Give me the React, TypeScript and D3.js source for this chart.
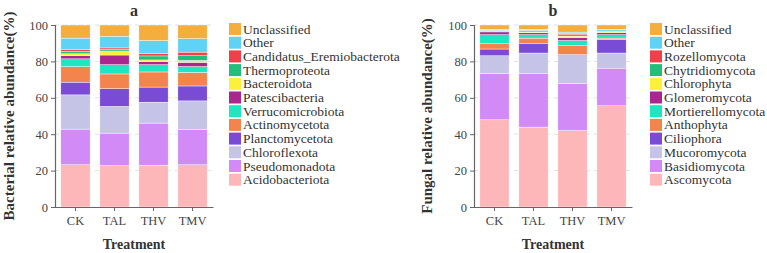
import { useRef, useEffect } from 'react';
import * as d3 from 'd3';

const treatments = ['CK', 'TAL', 'THV', 'TMV'];

// stacking order, bottom to top
const bacteriaTaxa = [
    'Acidobacteriota', 'Pseudomonadota', 'Chloroflexota', 'Planctomycetota',
    'Actinomycetota', 'Verrucomicrobiota', 'Patescibacteria', 'Bacteroidota',
    'Thermoproteota', 'Candidatus_Eremiobacterota', 'Other', 'Unclassified',
];
const bacteriaCK = [23.2, 19.6, 18.8, 7.0, 8.5, 4.3, 1.7, 1.1, 1.4, 1.0, 6.2, 7.2];
const bacteriaTAL = [22.7, 17.9, 14.7, 9.7, 8.1, 5.1, 5.3, 2.2, 0.8, 0.9, 6.4, 6.2];
const bacteriaTHV = [23.0, 23.1, 11.5, 8.3, 8.3, 4.0, 1.6, 1.0, 2.2, 1.2, 7.3, 8.5];
const bacteriaTMV = [23.2, 19.3, 15.8, 8.2, 7.5, 3.2, 2.3, 1.0, 2.6, 2.0, 7.4, 7.5];

const fungiTaxa = [
    'Ascomycota', 'Basidiomycota', 'Mucoromycota', 'Ciliophora',
    'Anthophyta', 'Mortierellomycota', 'Glomeromycota', 'Chlorophyta',
    'Chytridiomycota', 'Rozellomycota', 'Other', 'Unclassified',
];
const fungiCK = [47.9, 25.5, 9.7, 3.7, 2.9, 5.0, 1.5, 0.3, 0.3, 0.2, 0.5, 2.5];
const fungiTAL = [43.9, 29.6, 11.1, 5.1, 3.1, 1.9, 1.0, 0.4, 0.6, 0.3, 0.6, 2.4];
const fungiTHV = [42.0, 25.8, 15.4, 0.6, 4.8, 2.9, 1.6, 0.8, 0.8, 0.5, 0.9, 3.9];
const fungiTMV = [55.6, 20.7, 8.3, 7.3, 0.9, 1.9, 1.1, 0.4, 0.3, 0.2, 1.0, 2.3];

const palette = [
    '#feb7b8', '#d28af7', '#c5c4e6', '#7a4cd6', '#f4844e', '#1ee6c0',
    '#a9278f', '#fbf03a', '#23bd7c', '#f2404a', '#5ed3f6', '#f3ae3e',
];

const yTicks = [0, 20, 40, 60, 80, 100];

interface PanelSpec {
    title: string;
    yLabel: string;
    taxa: string[];
    values: number[][];
    left: number;
    labelX: number;
    legendX: number;
}

const SERIF = '"Liberation Serif", "Times New Roman", serif';

function drawPanel(svg: d3.Selection<SVGSVGElement, unknown, null, undefined>, p: PanelSpec) {
    const top = 25;
    const bottom = 207;
    const plotW = 158;

    const rows = treatments.map((t, i) => {
        const row: Record<string, number | string> = { treatment: t };
        p.taxa.forEach((k, j) => { row[k] = p.values[i][j]; });
        return row;
    });

    const x = d3.scaleBand<string>()
        .domain(treatments)
        .range([p.left, p.left + plotW])
        .paddingInner(0.25)
        .paddingOuter(0.15);

    const y = d3.scaleLinear().domain([0, 100]).range([bottom, top]);

    const color = d3.scaleOrdinal<string, string>().domain(p.taxa).range(palette);

    const g = svg.append('g');

    // dashed grid
    g.append('g')
        .selectAll('line')
        .data(yTicks.slice(1))
        .enter()
        .append('line')
        .attr('x1', p.left)
        .attr('x2', p.left + plotW)
        .attr('y1', d => y(d))
        .attr('y2', d => y(d))
        .attr('stroke', '#e0e0e0')
        .attr('stroke-dasharray', '4,4');

    // stacked bars
    const series = d3.stack<Record<string, number | string>>()
        .keys(p.taxa)
        .value((d, k) => d[k] as number)(rows);

    g.append('g')
        .selectAll('g')
        .data(series)
        .enter()
        .append('g')
        .attr('fill', d => color(d.key))
        .selectAll('rect')
        .data(d => d)
        .enter()
        .append('rect')
        .attr('x', d => x(d.data.treatment as string)!)
        .attr('width', x.bandwidth())
        .attr('y', d => y(d[1]))
        .attr('height', d => y(d[0]) - y(d[1]))
        .attr('stroke', '#fff')
        .attr('stroke-width', 0.4);

    // Y axis
    const yAxis = g.append('g')
        .attr('transform', `translate(${p.left},0)`)
        .call(d3.axisLeft(y).tickValues(yTicks).tickSize(4).tickPadding(3));

    // X axis
    const xAxis = g.append('g')
        .attr('transform', `translate(0,${bottom})`)
        .call(d3.axisBottom(x).tickSize(4).tickPadding(5).tickSizeOuter(0));

    [yAxis, xAxis].forEach(a => {
        a.select('.domain').attr('stroke', '#666').attr('stroke-width', 1.2);
        a.selectAll('.tick line').attr('stroke', '#666');
        a.selectAll('text')
            .attr('fill', '#444')
            .attr('font-family', SERIF)
            .attr('font-size', '12.5px');
    });

    // Title
    svg.append('text')
        .attr('x', p.left + plotW / 2)
        .attr('y', 16)
        .attr('text-anchor', 'middle')
        .attr('fill', '#333')
        .attr('font-family', SERIF)
        .attr('font-size', '16px')
        .attr('font-weight', 'bold')
        .text(p.title);

    // Y label
    svg.append('text')
        .attr('transform', `translate(${p.labelX},${(top + bottom) / 2}) rotate(-90)`)
        .attr('text-anchor', 'middle')
        .attr('fill', '#333')
        .attr('font-family', SERIF)
        .attr('font-size', '15px')
        .attr('font-weight', 'bold')
        .text(p.yLabel);

    // X label
    svg.append('text')
        .attr('x', p.left + plotW / 2)
        .attr('y', 249)
        .attr('text-anchor', 'middle')
        .attr('fill', '#333')
        .attr('font-family', SERIF)
        .attr('font-size', '14px')
        .attr('font-weight', 'bold')
        .text('Treatment');

    // Legend, top entry is the last stacked series
    const legend = svg.append('g')
        .selectAll('g')
        .data([...p.taxa].reverse())
        .enter()
        .append('g')
        .attr('transform', (_, i) => `translate(${p.legendX},${23 + i * 13.7})`);

    legend.append('rect')
        .attr('width', 12)
        .attr('height', 12)
        .attr('fill', d => color(d));

    legend.append('text')
        .attr('x', 14)
        .attr('y', 10.5)
        .attr('fill', '#333')
        .attr('font-family', SERIF)
        .attr('font-size', '13.5px')
        .text(d => d);
}

export default function App() {
    const svgRef = useRef<SVGSVGElement>(null);

    useEffect(() => {
        if (!svgRef.current) return;
        const svg = d3.select(svgRef.current);
        svg.selectAll('*').remove();

        drawPanel(svg, {
            title: 'a',
            yLabel: 'Bacterial relative abundance(%)',
            taxa: bacteriaTaxa,
            values: [bacteriaCK, bacteriaTAL, bacteriaTHV, bacteriaTMV],
            left: 55,
            labelX: 14,
            legendX: 229,
        });

        drawPanel(svg, {
            title: 'b',
            yLabel: 'Fungal relative abundance(%)',
            taxa: fungiTaxa,
            values: [fungiCK, fungiTAL, fungiTHV, fungiTMV],
            left: 474,
            labelX: 432,
            legendX: 650,
        });
    }, []);

    return (
        <svg
            ref={svgRef}
            width={767}
            height={253}
            style={{ position: 'absolute', left: 0, top: 0, background: '#fff' }}
        />
    );
}
